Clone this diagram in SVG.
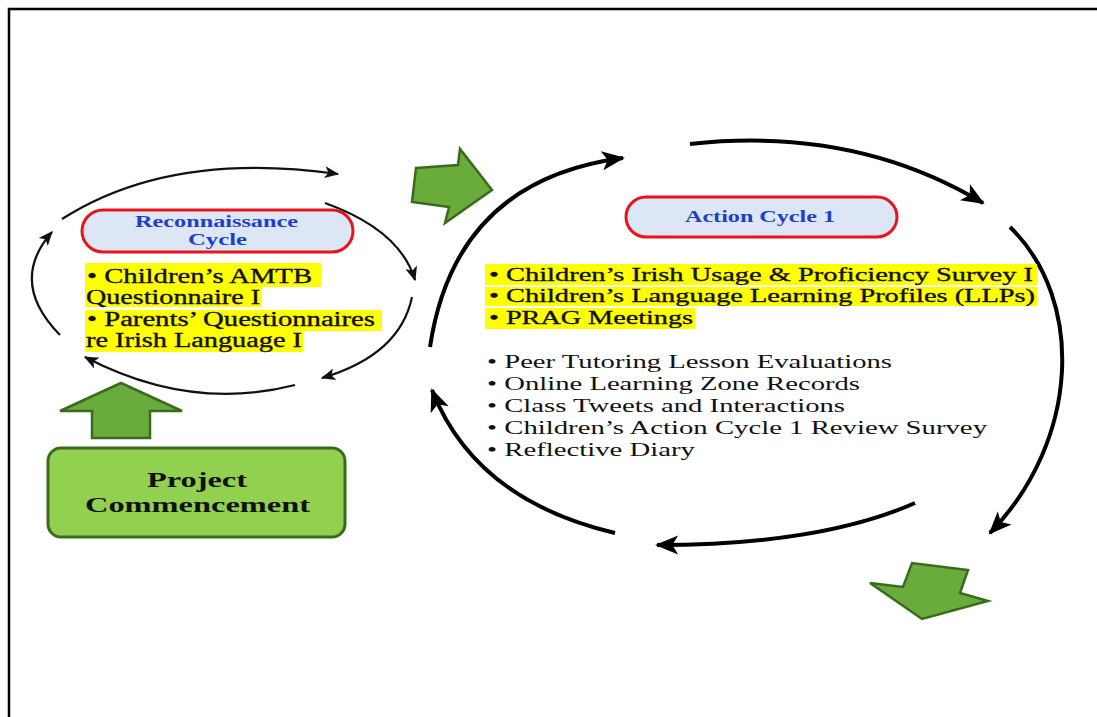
<svg xmlns="http://www.w3.org/2000/svg" width="1097" height="717" viewBox="0 0 1097 717">
<style>
  .bg { fill: #ffffff; }
  .frame { fill: none; stroke: #000; stroke-width: 2.5; }
  .arcS { fill: none; stroke: #111; stroke-width: 2.2; }
  .arcL { fill: none; stroke: #000; stroke-width: 4; }
  .garrow { fill: #6aac3c; stroke: #3a6a1c; stroke-width: 2.5; stroke-linejoin: miter; }
  .gbox { fill: #92d050; stroke: #3a6a1c; stroke-width: 3; }
  .pill { fill: #dce6f4; stroke: #e8141c; stroke-width: 3; }
  .ptitle { font-family: "Liberation Serif", "Times New Roman", serif; font-weight: bold; fill: #1f3fc8; }
  .hl { fill: #ffff00; }
  .txt { font-family: "Liberation Serif", "Times New Roman", serif; fill: #111; }
  .htxt { font-family: "Liberation Serif", "Times New Roman", serif; fill: #111; stroke: #111; stroke-width: 0.35; }
  .btxt { font-family: "Liberation Serif", "Times New Roman", serif; font-weight: bold; fill: #111; }
</style>
<defs>
  <marker id="arrS" viewBox="0 0 12 10" refX="11" refY="5" markerWidth="8" markerHeight="5.5" orient="auto" markerUnits="strokeWidth">
    <path d="M0,0 L12,5 L0,10 L3,5 z" fill="#111"/>
  </marker>
  <marker id="arrL" viewBox="0 0 12 10" refX="11" refY="5" markerWidth="6.5" markerHeight="4.8" orient="auto" markerUnits="strokeWidth">
    <path d="M0,0 L12,5 L0,10 L3,5 z" fill="#000"/>
  </marker>
</defs>
<rect class="bg" x="0" y="0" width="1097" height="717"/>
<path class="frame" d="M9,717 L9,9 L1097,9"/>

<g id="connectors">
  <!-- reconnaissance cycle -->
  <path class="arcS" d="M62,219 Q170,150 338,174" marker-end="url(#arrS)"/>
  <path class="arcS" d="M325,203 Q400,230 415,280" marker-end="url(#arrS)"/>
  <path class="arcS" d="M412,297 Q400,355 322,378" marker-end="url(#arrS)"/>
  <path class="arcS" d="M295,385 Q190,412 85,357" marker-end="url(#arrS)"/>
  <path class="arcS" d="M60,335 Q8,282 52,232" marker-end="url(#arrS)"/>
  <!-- action cycle 1 -->
  <path class="arcL" d="M430,347 Q455,180 623,158" marker-end="url(#arrL)"/>
  <path class="arcL" d="M690,144 Q855,126 983,203" marker-end="url(#arrL)"/>
  <path class="arcL" d="M1010,227 C1085,300 1080,440 990,533" marker-end="url(#arrL)"/>
  <path class="arcL" d="M915,503 Q820,545 657,545" marker-end="url(#arrL)"/>
  <path class="arcL" d="M615,533 Q475,500 432,390" marker-end="url(#arrL)"/>
  <!-- block arrows -->
  <polygon class="garrow" points="416,168 458,165 460,149 492,190 445,223 449,207 412,202"/>
  <polygon class="garrow" points="121,383 182,411 150,411 150,438 92,438 92,411 60,411"/>
  <polygon class="garrow" points="870,583 903,587 912,563 968,570 960,593 988,601 922,619"/>
</g>

<g id="reconnaissance">
  <rect class="pill" x="82" y="210" width="271" height="42" rx="21"/>
  <text class="ptitle" x="135" y="227" font-size="16" textLength="163" lengthAdjust="spacingAndGlyphs">Reconnaissance</text>
  <text class="ptitle" x="188" y="245" font-size="16" textLength="59" lengthAdjust="spacingAndGlyphs">Cycle</text>
</g>

<g id="recon-list">
  <rect class="hl" x="85" y="263" width="236" height="24"/>
  <rect class="hl" x="85" y="287" width="177" height="20"/>
  <rect class="hl" x="85" y="310" width="297" height="21"/>
  <rect class="hl" x="85" y="331" width="218" height="21"/>
  <text class="htxt" x="87" y="283" font-size="20" textLength="225" lengthAdjust="spacingAndGlyphs">• Children’s AMTB</text>
  <text class="htxt" x="86" y="304" font-size="20" textLength="174" lengthAdjust="spacingAndGlyphs">Questionnaire I</text>
  <text class="htxt" x="87" y="326" font-size="20" textLength="288" lengthAdjust="spacingAndGlyphs">• Parents’ Questionnaires</text>
  <text class="htxt" x="86" y="347" font-size="20" textLength="216" lengthAdjust="spacingAndGlyphs">re Irish Language I</text>
</g>

<g id="project-commencement">
  <rect class="gbox" x="48" y="448" width="297" height="89" rx="13"/>
  <text class="btxt" x="147" y="487" font-size="20" textLength="100" lengthAdjust="spacingAndGlyphs">Project</text>
  <text class="btxt" x="85" y="512" font-size="20" textLength="225" lengthAdjust="spacingAndGlyphs">Commencement</text>
</g>

<g id="action-cycle-1">
  <rect class="pill" x="626" y="197" width="271" height="40" rx="20"/>
  <text class="ptitle" x="685" y="222" font-size="17" textLength="150" lengthAdjust="spacingAndGlyphs">Action Cycle 1</text>
</g>

<g id="action-list">
  <rect class="hl" x="485" y="264" width="552" height="21"/>
  <rect class="hl" x="485" y="287" width="552" height="19"/>
  <rect class="hl" x="485" y="308" width="210" height="21"/>
  <text class="htxt" x="489" y="281" font-size="19.5" textLength="544" lengthAdjust="spacingAndGlyphs">• Children’s Irish Usage &amp; Proficiency Survey I</text>
  <text class="htxt" x="489" y="302" font-size="19.5" textLength="546" lengthAdjust="spacingAndGlyphs">• Children’s Language Learning Profiles (LLPs)</text>
  <text class="htxt" x="489" y="324" font-size="19.5" textLength="204" lengthAdjust="spacingAndGlyphs">• PRAG Meetings</text>
  <text class="txt" x="487" y="368" font-size="18" textLength="405" lengthAdjust="spacingAndGlyphs">• Peer Tutoring Lesson Evaluations</text>
  <text class="txt" x="487" y="390" font-size="18" textLength="373" lengthAdjust="spacingAndGlyphs">• Online Learning Zone Records</text>
  <text class="txt" x="487" y="412" font-size="18" textLength="358" lengthAdjust="spacingAndGlyphs">• Class Tweets and Interactions</text>
  <text class="txt" x="487" y="434" font-size="18" textLength="500" lengthAdjust="spacingAndGlyphs">• Children’s Action Cycle 1 Review Survey</text>
  <text class="txt" x="487" y="456" font-size="18" textLength="208" lengthAdjust="spacingAndGlyphs">• Reflective Diary</text>
</g>
</svg>
